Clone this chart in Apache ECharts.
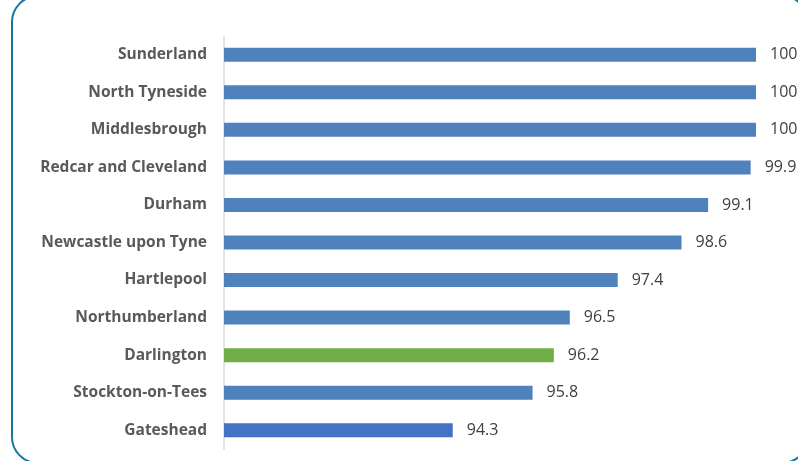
<!DOCTYPE html>
<html>
<head>
<meta charset="utf-8">
<script src="https://cdn.jsdelivr.net/npm/echarts@6/dist/echarts.min.js"></script>
<style>
html,body{margin:0;padding:0;background:#fff;}
#chart{width:798px;height:461px;}
</style>
</head>
<body>
<div id="chart"></div>
<script>
var categories = ["Sunderland","North Tyneside","Middlesbrough","Redcar and Cleveland","Durham","Newcastle upon Tyne","Hartlepool","Northumberland","Darlington","Stockton-on-Tees","Gateshead"];
var values = [100,100,100,99.9,99.1,98.6,97.4,96.5,96.2,95.8,94.3];
var barColors = ["#4F81BD","#4F81BD","#4F81BD","#4F81BD","#4F81BD","#4F81BD","#4F81BD","#4F81BD","#70AD47","#4F81BD","#4472C4"];

var chart = echarts.init(document.getElementById('chart'), null, {renderer:'canvas'});
var data = values.map(function(v,i){ return {value:v, itemStyle:{color:barColors[i]}}; });
chart.setOption({
  animation:false,
  graphic:[{
    type:'rect', z:-1,
    shape:{x:12, y:-4, width:796, height:467, r:26},
    style:{fill:'none', stroke:'#17769E', lineWidth:2}
  }],
  grid:{left:224, right:42, top:36, bottom:12, containLabel:false},
  xAxis:{type:'value', min:90, max:100, show:false},
  yAxis:{
    type:'category', data:categories, inverse:true,
    axisLine:{show:true, lineStyle:{color:'#D9D9D9', width:1.5}},
    axisTick:{show:false},
    axisLabel:{color:'#595959', fontFamily:'Open Sans', fontWeight:'bold', fontSize:15.5, margin:17}
  },
  series:[{
    type:'bar', data:data, barWidth:14,
    label:{show:true, position:'right', distance:14, color:'#404040', fontFamily:'Open Sans', fontSize:16}
  }]
});
</script>
</body>
</html>
